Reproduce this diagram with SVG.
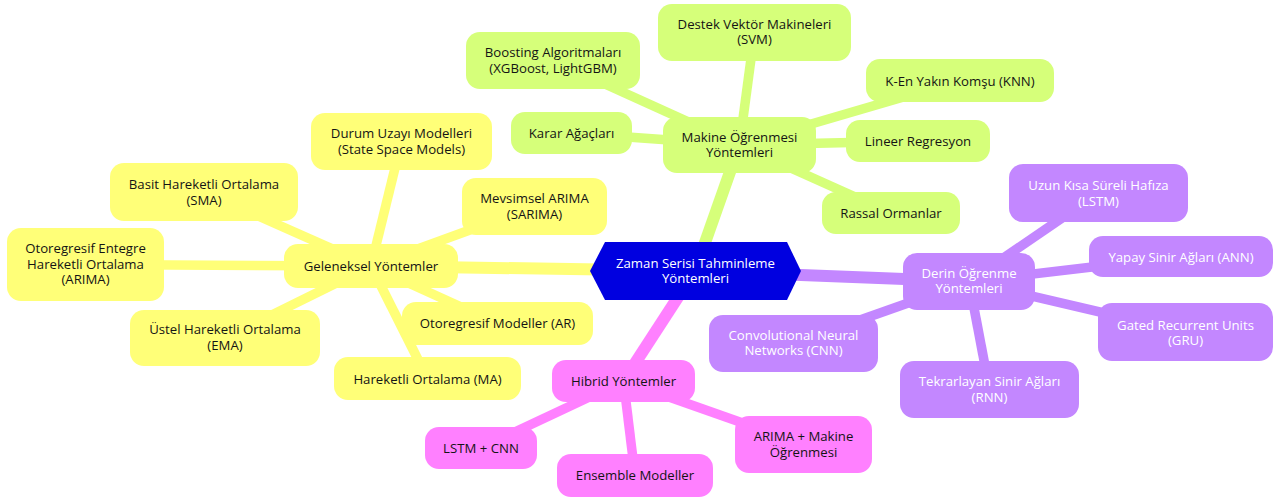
<svg xmlns="http://www.w3.org/2000/svg" width="1279" height="498" viewBox="0 0 1279 498">
<style>
  .ny { fill: #ffff78; }
  .ng { fill: #d6ff7a; }
  .np { fill: #c387ff; }
  .nk { fill: #ff80ff; }
  .root { fill: #0000e0; }
  text { font-family: "Open Sans", "Noto Sans", sans-serif; font-size: 13.2px; text-anchor: middle; }
  .td { fill: #141414; }
  .tw { fill: #ffffff; }
  .e0 { stroke-width: 12; stroke-linecap: butt; fill: none; }
  .e1 { stroke-width: 9.5; stroke-linecap: butt; fill: none; }
  .ey { stroke: #ffff78; }
  .eg { stroke: #d6ff7a; }
  .ep { stroke: #c387ff; }
  .ek { stroke: #ff80ff; }
</style>
<rect width="1279" height="498" fill="#ffffff"/>
<g id="connectors">
  <line class="e0 ey" x1="695" y1="271" x2="371" y2="266"/>
  <line class="e0 eg" x1="695" y1="271" x2="739.5" y2="145"/>
  <line class="e0 ep" x1="695" y1="271" x2="969" y2="281.5"/>
  <line class="e0 ek" x1="695" y1="271" x2="623.5" y2="381"/>
  <line class="e1 ey" x1="371" y1="266" x2="401.5" y2="141.5"/>
  <line class="e1 ey" x1="371" y1="266" x2="534.5" y2="206.5"/>
  <line class="e1 ey" x1="371" y1="266" x2="204" y2="192"/>
  <line class="e1 ey" x1="371" y1="266" x2="85.5" y2="264.5"/>
  <line class="e1 ey" x1="371" y1="266" x2="225" y2="338"/>
  <line class="e1 ey" x1="371" y1="266" x2="497.5" y2="323.5"/>
  <line class="e1 ey" x1="371" y1="266" x2="427.5" y2="378.5"/>
  <line class="e1 eg" x1="739.5" y1="145" x2="553" y2="60.5"/>
  <line class="e1 eg" x1="739.5" y1="145" x2="754.5" y2="32.5"/>
  <line class="e1 eg" x1="739.5" y1="145" x2="571.5" y2="133"/>
  <line class="e1 eg" x1="739.5" y1="145" x2="960" y2="80.5"/>
  <line class="e1 eg" x1="739.5" y1="145" x2="918" y2="141"/>
  <line class="e1 eg" x1="739.5" y1="145" x2="891" y2="213"/>
  <line class="e1 ep" x1="969" y1="281.5" x2="1098.5" y2="193"/>
  <line class="e1 ep" x1="969" y1="281.5" x2="1181" y2="256.5"/>
  <line class="e1 ep" x1="969" y1="281.5" x2="1185.5" y2="332"/>
  <line class="e1 ep" x1="969" y1="281.5" x2="989.5" y2="389.5"/>
  <line class="e1 ep" x1="969" y1="281.5" x2="793.5" y2="343.5"/>
  <line class="e1 ek" x1="623.5" y1="381" x2="481" y2="448"/>
  <line class="e1 ek" x1="623.5" y1="381" x2="635" y2="475.5"/>
  <line class="e1 ek" x1="623.5" y1="381" x2="803.5" y2="444.5"/>
</g>
<g id="root">
  <polygon class="root" points="590,271 605,242 787,242 801,271 787,300 605,300"/>
  <text class="tw" x="695.5" y="267.5">Zaman Serisi Tahminleme</text>
  <text class="tw" x="695.5" y="283">Yöntemleri</text>
</g>
<g id="geleneksel">
  <rect class="ny" x="284" y="244" width="174" height="44" rx="14"/>
  <text class="td" x="371" y="270.5">Geleneksel Yöntemler</text>
</g>
<g id="durum">
  <rect class="ny" x="311" y="113" width="181" height="57" rx="14"/>
  <text class="td" x="401.5" y="138">Durum Uzayı Modelleri</text>
  <text class="td" x="401.5" y="153.5">(State Space Models)</text>
</g>
<g id="sarima">
  <rect class="ny" x="462" y="178" width="145" height="57" rx="14"/>
  <text class="td" x="534.5" y="203">Mevsimsel ARIMA</text>
  <text class="td" x="534.5" y="218.5">(SARIMA)</text>
</g>
<g id="sma">
  <rect class="ny" x="110" y="163" width="188" height="58" rx="14"/>
  <text class="td" x="204" y="189">Basit Hareketli Ortalama</text>
  <text class="td" x="204" y="204.5">(SMA)</text>
</g>
<g id="arima">
  <rect class="ny" x="7" y="228" width="157" height="73" rx="14"/>
  <text class="td" x="85.5" y="253">Otoregresif Entegre</text>
  <text class="td" x="85.5" y="268.5">Hareketli Ortalama</text>
  <text class="td" x="85.5" y="284">(ARIMA)</text>
</g>
<g id="ema">
  <rect class="ny" x="130" y="310" width="190" height="56" rx="14"/>
  <text class="td" x="225" y="334">Üstel Hareketli Ortalama</text>
  <text class="td" x="225" y="349.5">(EMA)</text>
</g>
<g id="ar">
  <rect class="ny" x="402" y="302" width="191" height="43" rx="14"/>
  <text class="td" x="497.5" y="328">Otoregresif Modeller (AR)</text>
</g>
<g id="ma">
  <rect class="ny" x="334" y="357" width="187" height="43" rx="14"/>
  <text class="td" x="427.5" y="383.5">Hareketli Ortalama (MA)</text>
</g>
<g id="makine">
  <rect class="ng" x="663" y="117" width="153" height="56" rx="14"/>
  <text class="td" x="739.5" y="141.5">Makine Öğrenmesi</text>
  <text class="td" x="739.5" y="157">Yöntemleri</text>
</g>
<g id="boosting">
  <rect class="ng" x="466" y="32" width="174" height="57" rx="14"/>
  <text class="td" x="553" y="57">Boosting Algoritmaları</text>
  <text class="td" x="553" y="72.5">(XGBoost, LightGBM)</text>
</g>
<g id="svm">
  <rect class="ng" x="658" y="4" width="193" height="57" rx="14"/>
  <text class="td" x="754.5" y="28.5">Destek Vektör Makineleri</text>
  <text class="td" x="754.5" y="44">(SVM)</text>
</g>
<g id="karar">
  <rect class="ng" x="511" y="112" width="121" height="42" rx="14"/>
  <text class="td" x="571.5" y="137.5">Karar Ağaçları</text>
</g>
<g id="knn">
  <rect class="ng" x="866" y="59" width="188" height="43" rx="14"/>
  <text class="td" x="960" y="85.5">K-En Yakın Komşu (KNN)</text>
</g>
<g id="lineer">
  <rect class="ng" x="846" y="120" width="144" height="42" rx="14"/>
  <text class="td" x="918" y="146">Lineer Regresyon</text>
</g>
<g id="rassal">
  <rect class="ng" x="822" y="192" width="138" height="42" rx="14"/>
  <text class="td" x="891" y="218">Rassal Ormanlar</text>
</g>
<g id="derin">
  <rect class="np" x="903" y="253" width="132" height="57" rx="14"/>
  <text class="tw" x="969" y="277.5">Derin Öğrenme</text>
  <text class="tw" x="969" y="293">Yöntemleri</text>
</g>
<g id="lstm">
  <rect class="np" x="1009" y="164" width="179" height="58" rx="14"/>
  <text class="tw" x="1098.5" y="190">Uzun Kısa Süreli Hafıza</text>
  <text class="tw" x="1098.5" y="205.5">(LSTM)</text>
</g>
<g id="ann">
  <rect class="np" x="1089" y="236" width="184" height="41" rx="14"/>
  <text class="tw" x="1181" y="261.5">Yapay Sinir Ağları (ANN)</text>
</g>
<g id="gru">
  <rect class="np" x="1098" y="303" width="175" height="58" rx="14"/>
  <text class="tw" x="1185.5" y="329.5">Gated Recurrent Units</text>
  <text class="tw" x="1185.5" y="345">(GRU)</text>
</g>
<g id="rnn">
  <rect class="np" x="900" y="361" width="179" height="57" rx="14"/>
  <text class="tw" x="989.5" y="386">Tekrarlayan Sinir Ağları</text>
  <text class="tw" x="989.5" y="401.5">(RNN)</text>
</g>
<g id="cnn">
  <rect class="np" x="709" y="315" width="169" height="57" rx="14"/>
  <text class="tw" x="793.5" y="339.5">Convolutional Neural</text>
  <text class="tw" x="793.5" y="355">Networks (CNN)</text>
</g>
<g id="hibrid">
  <rect class="nk" x="552" y="360" width="143" height="42" rx="14"/>
  <text class="td" x="623.5" y="386">Hibrid Yöntemler</text>
</g>
<g id="lstmcnn">
  <rect class="nk" x="425" y="427" width="112" height="42" rx="14"/>
  <text class="td" x="481" y="453">LSTM + CNN</text>
</g>
<g id="ensemble">
  <rect class="nk" x="557" y="454" width="156" height="43" rx="14"/>
  <text class="td" x="635" y="480">Ensemble Modeller</text>
</g>
<g id="arimaml">
  <rect class="nk" x="735" y="416" width="137" height="57" rx="14"/>
  <text class="td" x="803.5" y="441">ARIMA + Makine</text>
  <text class="td" x="803.5" y="456.5">Öğrenmesi</text>
</g>
</svg>
